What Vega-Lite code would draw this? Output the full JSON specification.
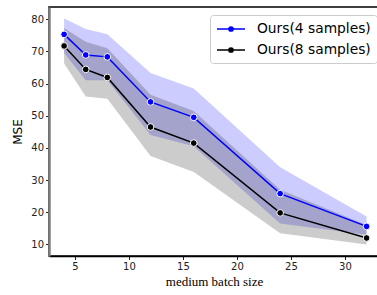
{
  "$schema": "https://vega.github.io/schema/vega-lite/v6.json",
  "autosize": {"type": "none"},
  "padding": {"left": 49, "top": 7, "right": 0, "bottom": 39},
  "width": 330,
  "height": 249,
  "config": {
    "view": {"stroke": "black", "strokeWidth": 1.5},
    "font": "DejaVu Sans",
    "axis": {
      "labelOverlap": false,
      "labelFontSize": 10, "labelColor": "#222", "labelPadding": 2,
      "tickSize": 3.5, "tickColor": "#222",
      "grid": false,
      "titleFontWeight": "normal", "titleColor": "black"
    },
    "axisX": {"domainColor": "black", "domainWidth": 1.5},
    "axisY": {"domainColor": "#808080", "domainWidth": 2.5}
  },
  "data": {
    "values": [
      {"x": 4, "s": "Ours(4 samples)", "y": 75.3, "lo": 69.5, "hi": 80.2},
      {"x": 6, "s": "Ours(4 samples)", "y": 68.9, "lo": 61.0, "hi": 77.0},
      {"x": 8, "s": "Ours(4 samples)", "y": 68.3, "lo": 61.0, "hi": 75.3},
      {"x": 12, "s": "Ours(4 samples)", "y": 54.3, "lo": 44.0, "hi": 63.3},
      {"x": 16, "s": "Ours(4 samples)", "y": 49.5, "lo": 40.5, "hi": 58.5},
      {"x": 24, "s": "Ours(4 samples)", "y": 25.8, "lo": 16.5, "hi": 34.0},
      {"x": 32, "s": "Ours(4 samples)", "y": 15.6, "lo": 13.0, "hi": 18.7},
      {"x": 4, "s": "Ours(8 samples)", "y": 71.7, "lo": 66.2, "hi": 77.2},
      {"x": 6, "s": "Ours(8 samples)", "y": 64.4, "lo": 56.0, "hi": 73.0},
      {"x": 8, "s": "Ours(8 samples)", "y": 61.9, "lo": 55.3, "hi": 71.0},
      {"x": 12, "s": "Ours(8 samples)", "y": 46.5, "lo": 37.5, "hi": 56.5},
      {"x": 16, "s": "Ours(8 samples)", "y": 41.5, "lo": 32.5, "hi": 51.5},
      {"x": 24, "s": "Ours(8 samples)", "y": 19.8, "lo": 13.5, "hi": 27.0},
      {"x": 32, "s": "Ours(8 samples)", "y": 12.0, "lo": 10.0, "hi": 16.0}
    ]
  },
  "encoding": {
    "x": {
      "field": "x", "type": "quantitative",
      "scale": {"domain": [2.6, 33.15], "nice": false, "zero": false},
      "axis": {
        "values": [5, 10, 15, 20, 25, 30],
        "title": "medium batch size",
        "titleFont": "Liberation Serif", "titleFontSize": 13,
        "titlePadding": 4
      }
    }
  },
  "layer": [
    {
      "mark": {"type": "area", "opacity": 0.2},
      "encoding": {
        "y": {
          "field": "lo", "type": "quantitative",
          "scale": {"domain": [6.4, 83.8], "nice": false, "zero": false},
          "axis": {
            "values": [10, 20, 30, 40, 50, 60, 70, 80],
            "labelOverlap": false,
            "title": "MSE",
            "titleFontSize": 12,
            "titlePadding": 6
          }
        },
        "y2": {"field": "hi"},
        "color": {
          "field": "s", "type": "nominal",
          "scale": {"domain": ["Ours(4 samples)", "Ours(8 samples)"], "range": ["#0000ff", "#000000"]},
          "legend": {
            "title": null,
            "orient": "none",
            "legendX": 161,
            "legendY": 8,
            "padding": 6,
            "fillColor": "rgba(255,255,255,0.8)",
            "strokeColor": "#cccccc",
            "cornerRadius": 3,
            "labelFontSize": 13.8,
            "labelColor": "black",
            "labelOffset": 25,
            "symbolType": "M-1,0L3,0M0.7,0A0.3,0.3 0 1,0 1.3,0A0.3,0.3 0 1,0 0.7,0Z",
            "symbolSize": 196,
            "symbolStrokeWidth": 1.5,
            "symbolOpacity": 1,
            "rowPadding": 6,
            "encode": {
              "symbols": {"update": {
                "fill": {"scale": "color", "field": "value"},
                "stroke": {"scale": "color", "field": "value"},
                "fillOpacity": {"value": 1},
                "strokeOpacity": {"value": 1},
                "opacity": {"value": 1}
              }}
            }
          }
        }
      }
    },
    {
      "mark": {"type": "line", "strokeWidth": 1.5},
      "encoding": {
        "y": {"field": "y", "type": "quantitative", "axis": {"values": [10, 20, 30, 40, 50, 60, 70, 80], "labelOverlap": false, "title": "MSE", "titleFontSize": 12, "titlePadding": 6}},
        "color": {"field": "s", "type": "nominal"}
      }
    },
    {
      "mark": {"type": "point", "filled": true, "size": 45, "opacity": 1, "stroke": "white", "strokeWidth": 1},
      "encoding": {
        "y": {"field": "y", "type": "quantitative", "axis": {"values": [10, 20, 30, 40, 50, 60, 70, 80], "labelOverlap": false, "title": "MSE", "titleFontSize": 12, "titlePadding": 6}},
        "fill": {"field": "s", "type": "nominal", "scale": {"domain": ["Ours(4 samples)", "Ours(8 samples)"], "range": ["#0000ff", "#000000"]}, "legend": null}
      }
    }
  ]
}
